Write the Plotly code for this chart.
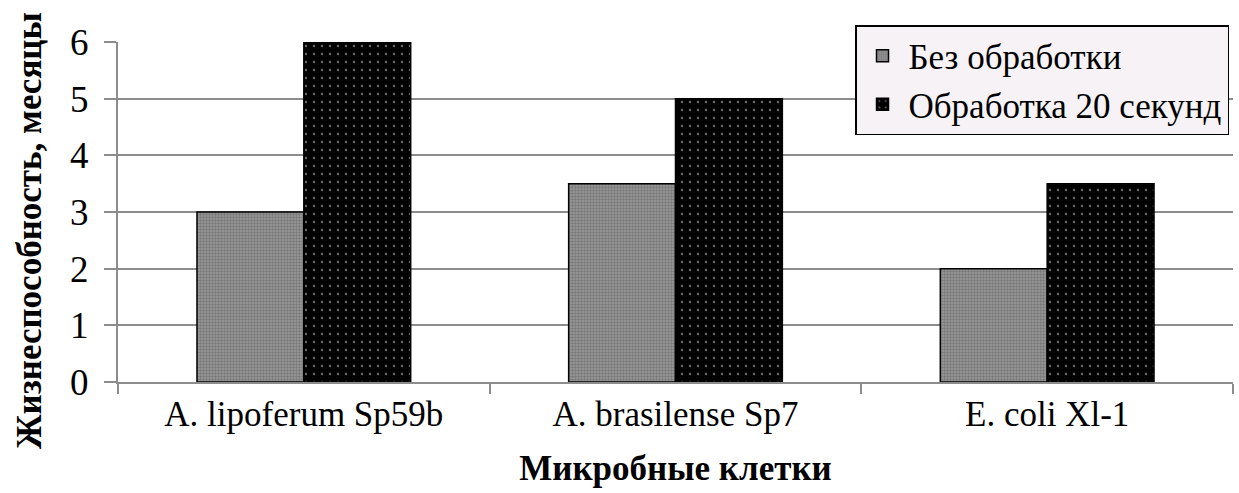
import plotly.graph_objects as go

categories = ["A. lipoferum Sp59b", "A. brasilense Sp7", "E. coli Xl-1"]
series_names = ["Без обработки", "Обработка 20 секунд"]
untreated = [3, 3.5, 2]
treated = [6, 5, 3.5]
y_ticks = [0, 1, 2, 3, 4, 5, 6]

FONT = "Liberation Serif, Times New Roman, serif"
GRID = "#8c8c8c"

fig = go.Figure()
fig.add_trace(go.Bar(
    x=categories, y=untreated, name=series_names[0],
    marker=dict(
        color="#858585",
        line=dict(color="black", width=1.5),
        pattern=dict(shape=".", fgcolor="#555555", bgcolor="#9a9a9a", size=3, solidity=0.5),
    ),
))
fig.add_trace(go.Bar(
    x=categories, y=treated, name=series_names[1],
    marker=dict(
        color="black",
        line=dict(color="black", width=1.5),
        pattern=dict(shape=".", fgcolor="#cfcfcf", bgcolor="black", size=8, solidity=0.08),
    ),
))

fig.add_annotation(
    text="<b>Жизнеспособность, месяцы</b>",
    xref="paper", yref="paper", x=-0.0798, y=0.444,
    xanchor="center", yanchor="middle", textangle=-90, showarrow=False,
    font=dict(family=FONT, size=35, color="black"),
)

fig.update_layout(
    width=1239, height=493,
    margin=dict(l=118, r=6, t=42, b=111),
    paper_bgcolor="white", plot_bgcolor="white",
    font=dict(family=FONT, size=35, color="black"),
    barmode="group", bargap=0.425, bargroupgap=0,
    showlegend=True,
    legend=dict(
        x=0.661, y=1.05, xanchor="left", yanchor="top",
        bgcolor="#f6f2f6", bordercolor="black", borderwidth=1.5,
        font=dict(family=FONT, size=35, color="black"),
        tracegroupgap=0, itemwidth=42,
    ),
    xaxis=dict(
        showline=True, linecolor=GRID, linewidth=2,
        ticks="outside", tickson="boundaries", ticklen=10, tickcolor=GRID, tickwidth=2,
        tickfont=dict(family=FONT, size=35),
        title=dict(text="<b>Микробные клетки</b>", font=dict(family=FONT, size=35), standoff=22),
    ),
    yaxis=dict(
        range=[0, 6], tickvals=y_ticks,
        showline=True, linecolor=GRID, linewidth=2,
        showgrid=True, gridcolor=GRID, gridwidth=1.5,
        ticks="outside", ticklen=12, tickcolor=GRID, tickwidth=2,
        tickfont=dict(family=FONT, size=37),
        ticklabelstandoff=8,
        zeroline=False,
    ),
)

fig.write_html("out.html")
